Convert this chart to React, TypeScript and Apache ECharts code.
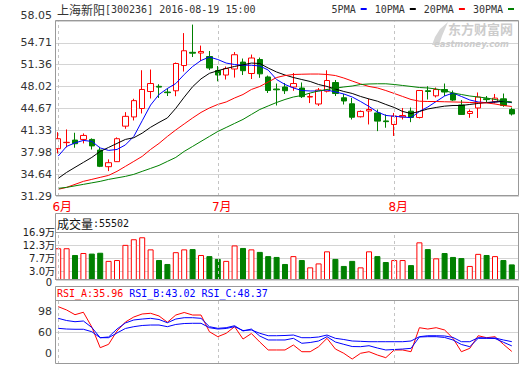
import React, { useEffect, useRef } from "react";
import * as echarts from "echarts";

const MONO = '"DejaVu Sans Mono", monospace';
const CJK = '"Noto Sans CJK SC", sans-serif';
const SANS = '"DejaVu Sans", "Noto Sans CJK SC", sans-serif';

const stockName = "上海新阳";
const stockCode = "300236";
const quoteTime = "2016-08-19 15:00";

const dates = [
  "2016-06-02", "2016-06-03", "2016-06-06", "2016-06-07", "2016-06-08", "2016-06-13", "2016-06-14",
  "2016-06-15", "2016-06-16", "2016-06-17", "2016-06-20", "2016-06-21", "2016-06-22", "2016-06-23",
  "2016-06-24", "2016-06-27", "2016-06-28", "2016-06-29", "2016-06-30",
  "2016-07-01", "2016-07-04", "2016-07-05", "2016-07-06", "2016-07-07", "2016-07-08", "2016-07-11",
  "2016-07-12", "2016-07-13", "2016-07-14", "2016-07-15", "2016-07-18", "2016-07-19", "2016-07-20",
  "2016-07-21", "2016-07-22", "2016-07-25", "2016-07-26", "2016-07-27", "2016-07-28", "2016-07-29",
  "2016-08-01", "2016-08-02", "2016-08-03", "2016-08-04", "2016-08-05", "2016-08-08", "2016-08-09",
  "2016-08-10", "2016-08-11", "2016-08-12", "2016-08-15", "2016-08-16", "2016-08-17", "2016-08-18",
  "2016-08-19",
];

const opens = [
  38.52, 39.45, 39.84, 39.94, 39.94, 38.31, 35.77, 36.54, 41.97, 43.38,
  44.67, 47.27, 48.06, 47.19, 47.38, 51.24, 53.26, 53.15, 52.62, 50.48,
  49.79, 50.71, 51.77, 50.02, 52.16, 49.49, 47.65, 47.96, 47.96, 47.8,
  46.42, 45.36, 47.31, 48.64, 46.31, 45.39, 43.41, 44.29, 43.99, 42.77,
  42.23, 43.37, 44.26, 43.3, 47.39, 46.61, 47.57, 46.99, 45.21, 43.91,
  44.75, 46.16, 45.7, 46.15, 44.52,
];
const closes = [
  40.05, 39.5, 39.28, 40.55, 38.95, 35.83, 36.38, 40.05, 43.47, 45.87,
  47.58, 48.49, 47.94, 47.09, 51.55, 53.5, 53.13, 53.39, 50.86, 49.79,
  50.78, 52.89, 50.45, 52.39, 49.97, 47.42, 47.53, 47.39, 48.49, 46.48,
  46.51, 47.5, 48.95, 46.96, 45.82, 43.33, 44.22, 44.52, 42.74, 42.66,
  43.53, 43.6, 43.3, 47.42, 47.27, 47.57, 47.19, 45.96, 43.76, 44.21,
  46.43, 46.03, 46.26, 45.13, 43.83,
];
const lows = [
  37.8, 38.72, 38.67, 39.33, 38.4, 35.71, 35.1, 36.5, 41.57, 42.84,
  43.91, 46.2, 46.28, 46.58, 46.55, 50.32, 52.54, 51.93, 50.55, 48.83,
  49.1, 49.4, 49.79, 49.18, 49.36, 47.04, 45.13, 46.89, 47.38, 46.28,
  45.5, 45.06, 47.12, 46.58, 45.28, 42.99, 43.3, 42.23, 41.21, 41.73,
  40.47, 42.99, 42.58, 43.15, 46.05, 46.36, 46.58, 45.82, 43.68, 43.25,
  43.22, 45.66, 45.47, 44.93, 43.6,
];
const highs = [
  41.05, 41.47, 40.96, 40.86, 40.1, 38.8, 36.89, 40.25, 44.11, 46.16,
  50.52, 50.63, 48.38, 47.77, 51.7, 56.2, 57.5, 54.29, 53.46, 51.16,
  51.09, 53.3, 52.31, 52.92, 52.46, 49.71, 48.49, 48.57, 50.1, 48.65,
  47.04, 47.8, 50.51, 49.03, 46.89, 46.28, 44.37, 46.12, 44.52, 43.76,
  43.99, 44.75, 44.82, 47.5, 48.08, 47.88, 48.49, 47.42, 45.97, 44.52,
  47.12, 46.58, 46.89, 46.96, 44.82,
];

const ma5 = [
  37.39, 38.87, 39.41, 39.79, 39.64, 38.64, 38.26, 38.41, 39.1, 40.4,
  42.8, 45.2, 46.81, 47.73, 48.49, 49.87, 51.09, 52.01, 52.54, 52.16,
  51.62, 51.39, 51.29, 51.29, 51.17, 50.55, 49.1, 48.34, 47.81, 47.42,
  47.35, 47.35, 47.5, 47.2, 46.89, 46.43, 45.74, 44.98, 44.14, 43.61,
  43.48, 43.38, 43.26, 44.22, 44.9, 45.74, 46.58, 47.04, 46.51, 45.97,
  45.67, 45.55, 45.67, 45.79, 45.55,
];
const ma10 = [
  33.99, 34.9, 35.67, 36.43, 37.19, 38.11, 38.72, 39.33, 39.94, 40.2,
  40.9, 41.8, 42.54, 43.23, 44.7, 46.4, 48.0, 49.2, 50.05, 50.45,
  50.8, 51.1, 51.35, 51.62, 51.55, 50.86, 50.25, 49.79, 49.41, 49.1,
  48.8, 48.34, 48.04, 47.65, 47.27, 46.97, 46.51, 46.13, 45.79, 45.29,
  44.83, 44.22, 43.91, 44.22, 44.6, 44.83, 45.03, 45.13, 45.13, 45.29,
  45.44, 45.59, 45.67, 45.74, 45.64,
];
const ma20 = [
  32.31, 32.61, 33.07, 33.53, 33.83, 34.14, 34.44, 35.06, 35.82, 36.58,
  37.35, 38.41, 39.33, 40.4, 41.39, 42.31, 43.22, 44.07, 44.75, 45.29,
  45.67, 46.28, 46.81, 47.58, 48.04, 48.72, 49.41, 49.71, 49.87, 49.91,
  49.94, 49.94, 49.87, 49.71, 49.33, 48.87, 48.42, 48.04, 47.81, 47.42,
  46.97, 46.51, 46.05, 45.79, 45.74, 45.74, 45.7, 45.67, 45.64, 45.59,
  45.55, 45.52, 45.36, 45.13, 44.98,
];
const ma30 = [
  32.46, 32.61, 32.84, 33.07, 33.3, 33.53, 33.83, 34.06, 34.29, 34.6,
  35.06, 35.51, 35.97, 36.58, 37.19, 38.11, 38.87, 39.64, 40.4, 41.16,
  41.77, 42.39, 43.0, 43.76, 44.52, 45.06, 45.59, 46.05, 46.43, 46.66,
  47.04, 47.35, 47.58, 47.78, 47.96, 48.11, 48.34, 48.42, 48.45, 48.45,
  48.34, 48.19, 48.04, 47.88, 47.81, 47.65, 47.42, 47.04, 46.81, 46.58,
  46.43, 46.28, 46.05, 45.82, 45.64,
];

const volume = [
  113000, 113000, 89000, 96000, 94000, 97000, 68000, 71000, 125000, 145000,
  152000, 109000, 71000, 57000, 99000, 109000, 110000, 89000, 85000, 75000,
  68000, 123000, 114000, 109000, 100000, 85000, 82000, 57000, 85000, 71000,
  45000, 59000, 102000, 75000, 50000, 68000, 45000, 102000, 85000, 64000,
  71000, 71000, 53000, 134000, 110000, 77000, 96000, 82000, 78000, 50000,
  93000, 89000, 85000, 71000, 55502,
];

const rsiA = [
  92.8, 88.6, 82.6, 85.7, 67.0, 40.7, 45.0, 61.9, 73.3, 79.7,
  83.5, 84.4, 81.0, 73.0, 82.2, 85.4, 82.2, 82.2, 61.0, 54.7,
  59.0, 67.4, 51.7, 58.7, 47.9, 37.8, 37.8, 37.8, 44.1, 35.6,
  35.6, 42.0, 52.6, 39.0, 33.6, 26.3, 33.6, 35.6, 31.4, 28.0,
  37.8, 37.8, 35.6, 66.1, 64.4, 66.1, 63.2, 52.6, 35.6, 39.9,
  55.9, 53.4, 54.7, 45.0, 35.96,
];
const rsiB = [
  78.0, 75.2, 73.7, 74.6, 66.4, 53.4, 54.3, 64.4, 72.1, 75.9,
  77.1, 78.0, 76.5, 72.4, 77.1, 78.8, 78.8, 78.0, 67.4, 65.3,
  66.1, 68.6, 61.9, 64.4, 55.5, 50.5, 50.5, 50.5, 52.6, 46.3,
  47.3, 49.2, 54.7, 47.9, 45.0, 42.2, 42.0, 43.2, 40.3, 37.8,
  38.4, 39.0, 39.9, 54.3, 54.7, 54.7, 53.7, 50.5, 44.8, 42.0,
  52.6, 52.6, 52.4, 47.6, 43.02,
];
const rsiC = [
  65.3, 64.4, 64.1, 64.1, 61.0, 53.4, 53.4, 59.4, 65.1, 67.4,
  68.9, 69.5, 69.5, 67.4, 70.2, 71.4, 71.7, 71.7, 66.1, 64.4,
  65.1, 67.4, 62.5, 63.2, 59.0, 55.9, 55.9, 56.2, 56.8, 53.4,
  53.4, 54.3, 56.8, 52.6, 51.1, 49.2, 48.8, 48.3, 48.3, 48.3,
  48.3, 48.3, 49.2, 54.7, 55.9, 55.9, 55.6, 53.7, 48.3, 48.3,
  53.4, 53.0, 53.0, 50.5, 48.37,
];

const priceTicks = [31.29, 34.64, 37.98, 41.33, 44.67, 48.02, 51.36, 54.71, 58.05];
const volumeTicks = [0, 30000, 77000, 123000, 169000];
const rsiGuide = [60];
const rsiTickLabels = ["0", "60", "98"];
const maNames = ["5PMA", "10PMA", "20PMA", "30PMA"];
const maColors = ["#0000ff", "#000000", "#ff0000", "#008000"];

const UP = "#ff0000";
const DOWN = "#008000";

function isMonthStart(i: number) {
  return i === 0 || dates[i].slice(5, 7) !== dates[i - 1].slice(5, 7);
}

function buildOption() {
  const monthStarts = dates.map((_, i) => i).filter(isMonthStart);
  const monthLine = {
    symbol: ["none", "none"],
    silent: true,
    label: { show: false },
    lineStyle: { type: [3, 3], color: "#c4c4c4", width: 1 },
    emphasis: { disabled: true },
    data: monthStarts.map((i) => ({ xAxis: dates[i] })),
  };
  const candleData = dates.map((_, i) => [opens[i], closes[i], lows[i], highs[i]]);
  const volData = volume.map((v, i) => ({
    value: v,
    itemStyle:
      closes[i] >= opens[i]
        ? { color: "#ffffff", borderColor: UP, borderWidth: 1 }
        : { color: DOWN, borderColor: DOWN, borderWidth: 1 },
  }));
  const last = (a: number[]) => a[a.length - 1];
  const maData = [ma5, ma10, ma20, ma30];
  const volText = (v: number) => (v === 0 ? "0" : (v / 10000).toFixed(1) + "万");
  const volFont = { fontFamily: SANS, fontSize: 10, lineHeight: 10, color: "#222222" };

  const dataGrid = (top: number, height: number) => ({ left: 54, top, width: 462, height });
  const frameGrid = (top: number, height: number) => ({ left: 56, top, width: 463, height });

  const hiddenValueX = (gridIndex: number) => ({ type: "value", gridIndex, min: 0, max: 1, show: false });
  const catX = (gridIndex: number, show: boolean) => ({
    type: "category",
    gridIndex,
    data: dates,
    boundaryGap: true,
    show,
    axisLine: { show: false },
    axisTick: { show: false },
    splitLine: { show: false },
    axisLabel: {
      show,
      interval: (index: number) => isMonthStart(index),
      margin: 5,
      formatter: (v: string) => `{m|${Number(v.slice(5, 7))}月}`,
      rich: {
        m: { color: "#ff0000", fontSize: 12, fontFamily: SANS, padding: [0, 0, 0, 8] },
      },
    },
  });

  const frame = (x: number, y: number, w: number, h: number) => ({
    type: "rect",
    z: 100,
    silent: true,
    shape: { x, y, width: w, height: h },
    style: { fill: "none", stroke: "#999999", lineWidth: 1 },
  });
  const hline = (y: number) => ({
    type: "line",
    z: 100,
    silent: true,
    shape: { x1: 55.5, y1: y, x2: 518.5, y2: y },
    style: { stroke: "#999999", lineWidth: 1 },
  });

  return {
    animation: false,
    backgroundColor: "#ffffff",
    title: [
      {
        left: 57,
        top: 3,
        padding: 0,
        text: `{c|${stockName}}{a|[${stockCode}] ${quoteTime}}`,
        textStyle: {
          fontWeight: "normal",
          rich: {
            c: { fontFamily: CJK, fontSize: 12, lineHeight: 13, color: "#333333" },
            a: { fontFamily: MONO, fontSize: 10, lineHeight: 13, color: "#333333" },
          },
        },
      },
      {
        left: 57,
        top: 216.5,
        padding: 0,
        text: `{c|成交量}{a|:${last(volume)}}`,
        textStyle: {
          fontWeight: "normal",
          rich: {
            c: { fontFamily: CJK, fontSize: 12, lineHeight: 13, color: "#111111" },
            a: { fontFamily: MONO, fontSize: 10, lineHeight: 13, color: "#111111" },
          },
        },
      },
      {
        left: 57,
        top: 287.5,
        padding: 0,
        text: `{r|RSI_A:${last(rsiA).toFixed(2)}}{s| }{b|RSI_B:${last(rsiB).toFixed(2)}}{s| }{b|RSI_C:${last(rsiC).toFixed(2)}}`,
        textStyle: {
          fontWeight: "normal",
          rich: {
            r: { fontFamily: MONO, fontSize: 10, lineHeight: 12, color: "#ff0000" },
            b: { fontFamily: MONO, fontSize: 10, lineHeight: 12, color: "#0000ff" },
            s: { fontFamily: MONO, fontSize: 10, lineHeight: 12, color: "#000" },
          },
        },
      },
    ],
    legend: {
      data: maNames,
      right: 6,
      top: 4,
      padding: 0,
      align: "right",
      icon: "rect",
      itemWidth: 6,
      itemHeight: 2,
      itemGap: 8,
      selectedMode: false,
      textStyle: { fontFamily: MONO, fontSize: 10, color: "#333333" },
    },
    grid: [
      dataGrid(21, 175),
      frameGrid(21, 175),
      dataGrid(232.5, 47.5),
      frameGrid(232.5, 47.5),
      dataGrid(301, 63),
      frameGrid(301, 63),
    ],
    xAxis: [catX(0, true), hiddenValueX(1), catX(2, false), hiddenValueX(3), catX(4, false), hiddenValueX(5)],
    yAxis: [
      { type: "value", gridIndex: 0, min: 31.29, max: 58.05, show: false },
      {
        type: "value",
        gridIndex: 1,
        position: "left",
        min: 31.29,
        max: 58.05,
        axisLine: { show: false },
        axisTick: { show: false, customValues: priceTicks },
        axisLabel: {
          customValues: priceTicks,
          showMinLabel: true,
          showMaxLabel: true,
          color: "#333333",
          fontFamily: SANS,
          fontSize: 11,
          margin: 4,
          formatter: (v: number) =>
            v === priceTicks[priceTicks.length - 1] ? `{t|${v.toFixed(2)}}` : v.toFixed(2),
          rich: {
            t: { color: "#333333", fontFamily: SANS, fontSize: 11, padding: [0, 0, 11, 0] },
          },
        },
        splitLine: { show: true, lineStyle: { color: "#d4d4d4", width: 1 } },
      },
      {
        type: "value",
        gridIndex: 2,
        position: "left",
        min: 0,
        max: 169000,
        axisLine: { show: false },
        axisTick: { show: false },
        splitLine: { show: false },
        axisLabel: {
          customValues: volumeTicks.filter((v) => v === 0),
          showMinLabel: true,
          margin: 2,
          ...volFont,
          formatter: (v: number) => `{z|${volText(v)}}`,
          rich: { z: { ...volFont, padding: [4, 0, 0, 0] } },
        },
      },
      {
        type: "value",
        gridIndex: 3,
        position: "left",
        min: 0,
        max: 169000,
        axisLine: { show: false },
        axisTick: { show: false, customValues: volumeTicks },
        axisLabel: {
          customValues: volumeTicks.filter((v) => v > 0),
          showMinLabel: true,
          showMaxLabel: true,
          margin: 1,
          ...volFont,
          formatter: volText,
        },
        splitLine: { show: true, lineStyle: { color: "#d4d4d4", width: 1 } },
      },
      { type: "value", gridIndex: 4, min: 20, max: 100, show: false },
      {
        type: "value",
        gridIndex: 5,
        position: "left",
        min: 20,
        max: 100,
        axisLine: { show: false },
        axisTick: { show: false, customValues: rsiGuide },
        axisLabel: { show: false },
        splitLine: { show: true, lineStyle: { color: "#d4d4d4", width: 1 } },
      },
      {
        type: "category",
        gridIndex: 5,
        position: "left",
        data: rsiTickLabels,
        boundaryGap: true,
        axisLine: { show: false },
        axisTick: { show: false },
        splitLine: { show: false },
        axisLabel: { color: "#333333", fontFamily: SANS, fontSize: 11, margin: 4 },
      },
    ],
    series: [
      {
        type: "candlestick",
        name: "K",
        xAxisIndex: 0,
        yAxisIndex: 0,
        barWidth: 6,
        data: candleData,
        itemStyle: {
          color: "#ffffff",
          color0: DOWN,
          borderColor: UP,
          borderColor0: DOWN,
          borderWidth: 1,
        },
        emphasis: { disabled: true },
        markLine: monthLine,
      },
      ...maNames.map((name, k) => ({
        type: "line",
        name,
        xAxisIndex: 0,
        yAxisIndex: 0,
        data: maData[k],
        color: maColors[k],
        symbol: "none",
        showSymbol: false,
        lineStyle: { color: maColors[k], width: 1 },
        emphasis: { disabled: true },
      })),
      {
        type: "bar",
        name: "VOL",
        xAxisIndex: 2,
        yAxisIndex: 2,
        barWidth: 6,
        data: volData,
        emphasis: { disabled: true },
        markLine: monthLine,
      },
      {
        type: "line",
        name: "RSI_A",
        xAxisIndex: 4,
        yAxisIndex: 4,
        data: rsiA,
        symbol: "none",
        lineStyle: { color: "#ff0000", width: 1 },
        emphasis: { disabled: true },
        markLine: monthLine,
      },
      {
        type: "line",
        name: "RSI_B",
        xAxisIndex: 4,
        yAxisIndex: 4,
        data: rsiB,
        symbol: "none",
        lineStyle: { color: "#0000ff", width: 1 },
        emphasis: { disabled: true },
      },
      {
        type: "line",
        name: "RSI_C",
        xAxisIndex: 4,
        yAxisIndex: 4,
        data: rsiC,
        symbol: "none",
        lineStyle: { color: "#0000ff", width: 1 },
        emphasis: { disabled: true },
      },
    ],
    graphic: {
      elements: [
        {
          type: "polygon",
          z: 1,
          silent: true,
          shape: {
            points: [
              [432, 45], [435, 37], [440, 29], [448, 22], [445, 29], [442, 36], [439, 45],
            ],
          },
          style: { fill: "#d6d6d6" },
        },
        {
          type: "text",
          z: 1,
          silent: true,
          x: 448,
          y: 22,
          style: { text: "东方财富网", font: `bold 13px ${CJK}`, fill: "#cccccc" },
        },
        {
          type: "text",
          z: 1,
          silent: true,
          x: 434,
          y: 39,
          style: { text: "eastmoney.com", font: `italic bold 8.5px "DejaVu Sans", sans-serif`, fill: "#cccccc" },
        },
        frame(55.5, 20.5, 463, 175),
        frame(55.5, 213.5, 463, 66),
        hline(232.5),
        frame(55.5, 286.5, 463, 77),
        hline(300.5),
      ],
    },
  };
}

export default function App() {
  const ref = useRef<HTMLDivElement>(null);
  useEffect(() => {
    if (!ref.current) return;
    const chart = echarts.init(ref.current, undefined, { renderer: "svg" });
    chart.setOption(buildOption() as any);
    return () => chart.dispose();
  }, []);
  return (
    <div
      ref={ref}
      style={{ position: "absolute", left: 0, top: 0, width: 520, height: 365, background: "#fff" }}
    />
  );
}
